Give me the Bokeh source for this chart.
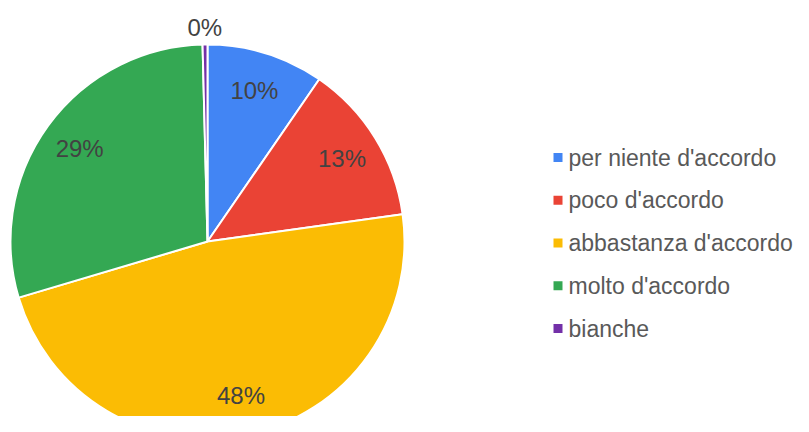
import math
from bokeh.plotting import figure
from bokeh.models import Range1d, ColumnDataSource
from bokeh.core.properties import value
from bokeh.embed import file_html
from bokeh.resources import INLINE

# ---- data ----
categories = ["per niente d'accordo", "poco d'accordo", "abbastanza d'accordo",
              "molto d'accordo", "bianche"]
counts = [24, 33, 119, 73, 1]
colors = ["#4285F4", "#EA4335", "#FBBC04", "#34A853", "#7330A8"]

# ---- layout constants (pixel-like data units) ----
W, H = 793, 416
CX, CY, R = 207, 175, 197
LABEL_R, OUT_R = 158, 214
FONT = "Liberation Sans"

total = sum(counts)
fracs = [c / total for c in counts]
starts, ends, lx, ly, labels = [], [], [], [], []
cum = 0.0
for f in fracs:
    a0 = math.pi / 2 - cum * 2 * math.pi
    a1 = math.pi / 2 - (cum + f) * 2 * math.pi
    mid = (a0 + a1) / 2
    r = LABEL_R if f >= 0.02 else OUT_R
    starts.append(a0)
    ends.append(a1)
    lx.append(CX + r * math.cos(mid))
    ly.append(CY + r * math.sin(mid))
    labels.append(f"{round(f * 100)}%")
    cum += f

src = ColumnDataSource(dict(start=starts, end=ends, color=colors,
                            lx=lx, ly=ly, label=labels))

p = figure(width=W, height=H, output_backend="svg", toolbar_location=None,
           x_range=Range1d(0, W), y_range=Range1d(0, H),
           x_axis_type=None, y_axis_type=None, min_border=0)
p.grid.visible = False
p.outline_line_color = None
p.background_fill_color = "white"
p.border_fill_color = "white"

p.wedge(x=CX, y=CY, radius=R, start_angle="start", end_angle="end",
        direction="clock", fill_color="color", line_color="white",
        line_width=2, source=src)

p.text(x="lx", y="ly", text="label", source=src, text_align="center",
       text_baseline="middle", text_font=value(FONT),
       text_font_size="24px", text_color="#424242")

# ---- legend ----
LEG_SQ_X, LEG_TXT_X, LEG_Y0, LEG_DY = 557.5, 568, 259, 42.75
leg_y = [LEG_Y0 - i * LEG_DY for i in range(len(categories))]
p.scatter(x=[LEG_SQ_X] * len(categories), y=leg_y, marker="square", size=9,
          fill_color=colors, line_color=None)
p.text(x=[LEG_TXT_X] * len(categories), y=leg_y, text=categories,
       text_align="left", text_baseline="middle", text_font=value(FONT),
       text_font_size="23px", text_color="#595959")

open("out.html", "w").write(file_html(p, INLINE))
